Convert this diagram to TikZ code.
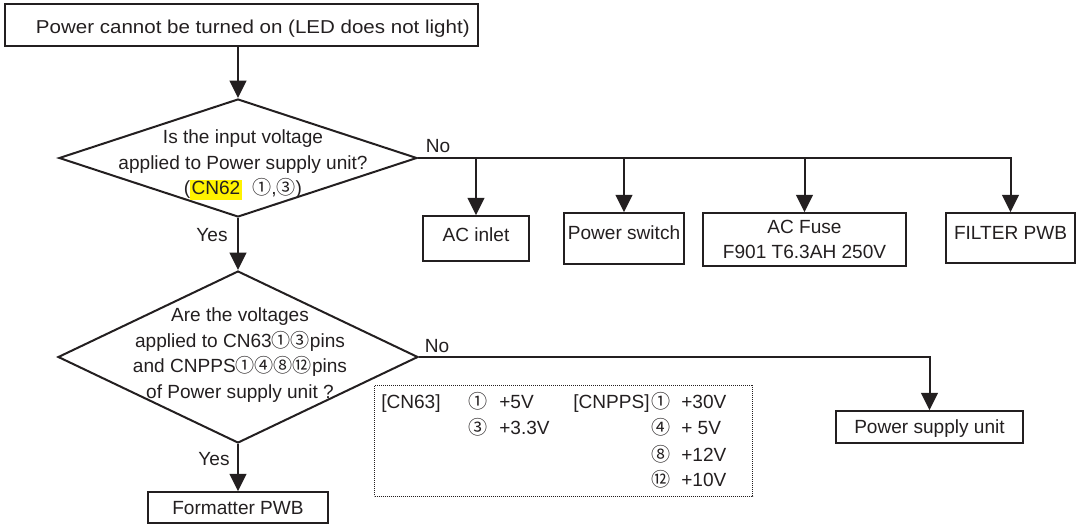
\documentclass[tikz,border=0pt]{standalone}
\usepackage{fontspec}
\setmainfont{Liberation Sans}
\newfontfamily\widefont[FakeStretch=1.1]{Liberation Sans}
\newfontfamily\cjkfont{Noto Sans CJK JP}
\usetikzlibrary{arrows.meta,shapes.geometric}
\definecolor{ink}{RGB}{35,31,32}
\newcommand\cn[1]{{\cjkfont #1}}
\newcommand\hlite[1]{{\setlength\fboxsep{1pt}\colorbox{yellow}{\vphantom{Ag}#1}}}
\tikzset{
  box/.style={draw=ink, line width=1.1pt, rectangle, inner sep=0pt, text=ink},
  dec/.style={draw=ink, line width=1.5pt, shape=diamond, inner sep=0pt},
  arr/.style={draw=ink, line width=1.5pt, -{Triangle[length=13pt,width=12.5pt]}},
  conn/.style={draw=ink, line width=1.5pt},
  lbl/.style={text=ink, inner sep=0pt, anchor=base},
  lblw/.style={text=ink, inner sep=0pt, anchor=base west},
  dotbox/.style={draw=ink, line width=0.6pt, dash pattern=on 0.6pt off 0.9pt, rectangle, inner sep=0pt},
  capc/.style={text height=10pt, text depth=0pt}
}
\begin{document}
\begin{tikzpicture}[x=0.75pt,y=-0.75pt, font=\fontsize{14.3}{19.2}\selectfont]
\useasboundingbox (0,0) rectangle (1077,525);

% start box
\node[box, minimum width=473*0.75pt, minimum height=42*0.75pt, text height=12.8pt, text depth=0pt,
      font=\widefont\fontsize{14}{19.2}\selectfont] (start) at (241.5,24.8)
  {\hspace*{17pt}Power cannot be turned on (LED does not light)};

% decision 1
\node[dec, minimum width=358*0.75pt, minimum height=118*0.75pt] (q1) at (238,158) {};
\node[text=ink, align=center, inner sep=0pt] (q1t) at (243,165)
  {Is the input voltage\\applied to Power supply unit?\\(\hlite{CN62}\ \ \cn{①},\cn{③})};

% first row boxes
\node[box, minimum width=106*0.75pt, minimum height=45*0.75pt, text height=10pt, text depth=5.2pt] (acin) at (476,238.5) {AC inlet};
\node[box, minimum width=120*0.75pt, minimum height=51*0.75pt, text height=10pt, text depth=8.2pt] (psw) at (624,238.5) {Power switch};
\node[box, minimum width=203*0.75pt, minimum height=53*0.75pt, align=center] (fuse) at (804.5,239.5) {AC Fuse\\F901 T6.3AH 250V};
\node[box, minimum width=129*0.75pt, minimum height=50*0.75pt, text height=10pt, text depth=7.5pt] (filter) at (1010.5,238) {FILTER PWB};

% decision 2
\node[dec, minimum width=360*0.75pt, minimum height=172*0.75pt] (q2) at (238,357) {};
\node[text=ink, align=center, inner sep=0pt] (q2t) at (240,355)
  {Are the voltages\\applied to CN63\cn{①③}pins\\and CNPPS\cn{①④⑧⑫}pins\\of Power supply unit ?};

\node[box, minimum width=187*0.75pt, minimum height=32*0.75pt, capc] (psu) at (929.5,427) {Power supply unit};
\node[box, minimum width=180*0.75pt, minimum height=31*0.75pt, capc] (fmt) at (238,507.5) {Formatter PWB};

% voltage table
\node[dotbox, minimum width=378*0.75pt, minimum height=111*0.75pt] (vt) at (563.5,440.5) {};
\node[lblw] (t1) at (381,408.5) {[CN63]};
\node[lbl] (t2) at (478,408.5) {\cn{①}};
\node[lblw] (t3) at (499,408.5) {+5V};
\node[lbl] (t4) at (478,434.5) {\cn{③}};
\node[lblw] (t5) at (499,434.5) {+3.3V};
\node[lblw] (t6) at (573,408.5) {[CNPPS]};
\node[lbl] (t7) at (661,408.5) {\cn{①}};
\node[lblw] (t8) at (681,408.5) {+30V};
\node[lbl] (t9) at (661,434.5) {\cn{④}};
\node[lblw] (t10) at (681,434.5) {+ 5V};
\node[lbl] (t11) at (661,461) {\cn{⑧}};
\node[lblw] (t12) at (681,461) {+12V};
\node[lbl] (t13) at (661,486.5) {\cn{⑫}};
\node[lblw] (t14) at (681,486.5) {+10V};

% labels
\node[lbl] (no1) at (438,152) {No};
\node[lbl] (yes1) at (212,241) {Yes};
\node[lbl] (no2) at (437,352.5) {No};
\node[lbl] (yes2) at (214,465) {Yes};

% connectors
\draw[arr] (q1.north |- start.south) -- (q1.north);
\draw[arr] (q1.south) -- (q2.north);
\draw[arr] (q2.south) -- (fmt.north);
\draw[arr] (q1.east) -| (filter.north);
\draw[arr] (acin.north |- q1.east) -- (acin.north);
\draw[arr] (psw.north |- q1.east) -- (psw.north);
\draw[arr] (fuse.north |- q1.east) -- (fuse.north);
\draw[arr] (q2.east) -| (psu.north);
\end{tikzpicture}
\end{document}
